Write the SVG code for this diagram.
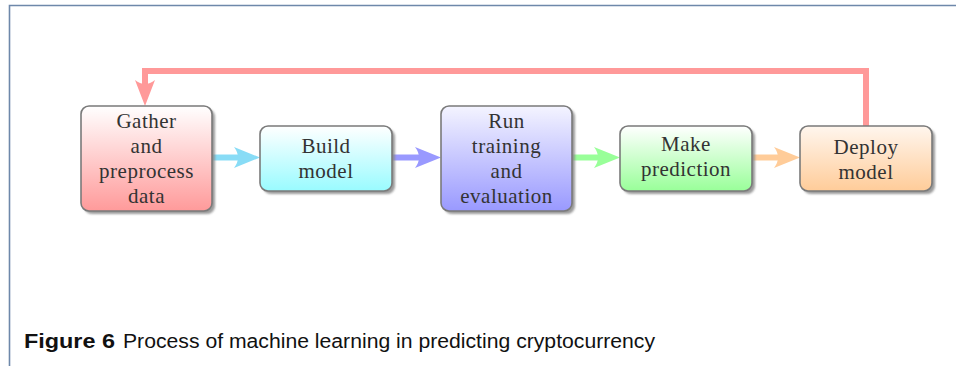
<svg xmlns="http://www.w3.org/2000/svg" width="956" height="366" viewBox="0 0 956 366">
<defs>
<linearGradient id="gRed" x1="0" y1="0" x2="0" y2="1"><stop offset="0" stop-color="#ffffff"/><stop offset="1" stop-color="#ff9a9a"/></linearGradient>
<linearGradient id="gCyan" x1="0" y1="0" x2="0" y2="1"><stop offset="0" stop-color="#ffffff"/><stop offset="1" stop-color="#99fbff"/></linearGradient>
<linearGradient id="gBlue" x1="0" y1="0" x2="0" y2="1"><stop offset="0" stop-color="#f4f4ff"/><stop offset="1" stop-color="#9999ff"/></linearGradient>
<linearGradient id="gGreen" x1="0" y1="0" x2="0" y2="1"><stop offset="0" stop-color="#ffffff"/><stop offset="1" stop-color="#99ff99"/></linearGradient>
<linearGradient id="gOrange" x1="0" y1="0" x2="0" y2="1"><stop offset="0" stop-color="#fff6ee"/><stop offset="1" stop-color="#ffcc99"/></linearGradient>
<filter id="sh" x="-10%" y="-10%" width="130%" height="130%"><feGaussianBlur stdDeviation="1.3"/></filter>
</defs>
<style>
.box{stroke:#7a7a7a;stroke-width:1.6}
.shadow{fill:#8a8a8a;opacity:0.85}
.t{font-family:"Liberation Serif","DejaVu Serif",serif;font-size:21px;letter-spacing:0.5px;fill:#333333;text-anchor:middle}
.cap{font-family:"Liberation Sans",Arial,sans-serif;font-size:20px;fill:#111111}
.line{fill:none;stroke-width:6}
</style>
<rect width="956" height="366" fill="#ffffff"/>
<path d="M9.5,366 V5.5 H956" fill="none" stroke="#6e88aa" stroke-width="1.6"/>
<g id="connectors">
<path class="line" d="M212,157.5 H238" stroke="#88dcf6"/>
<path d="M260,157.5 L234,147 Q242,157.5 234,168 Z" fill="#88dcf6"/>
<path class="line" d="M392,157.5 H419" stroke="#9999ff"/>
<path d="M441,157.5 L415,147 Q423,157.5 415,168 Z" fill="#9999ff"/>
<path class="line" d="M572,157.5 H598" stroke="#99ff99"/>
<path d="M620,157.5 L594,147 Q602,157.5 594,168 Z" fill="#99ff99"/>
<path class="line" d="M752,157.5 H778" stroke="#ffcc99"/>
<path d="M800,157.5 L774,147 Q782,157.5 774,168 Z" fill="#ffcc99"/>
<path class="line" d="M866,126 V71 H145 V85" stroke="#ff9999"/>
<path d="M145,106 L135,80 Q145,88 155,80 Z" fill="#ff9999"/>
</g>
<g id="gather">
<rect class="shadow" x="84" y="109" width="131" height="105" rx="8" filter="url(#sh)"/>
<rect class="box" x="81" y="106" width="131" height="105" rx="8" fill="url(#gRed)"/>
<text class="t" x="146.5" y="128">Gather</text>
<text class="t" x="146.5" y="153">and</text>
<text class="t" x="146.5" y="178">preprocess</text>
<text class="t" x="146.5" y="203">data</text>
</g>
<g id="build">
<rect class="shadow" x="263" y="129" width="132" height="65" rx="8" filter="url(#sh)"/>
<rect class="box" x="260" y="126" width="132" height="65" rx="8" fill="url(#gCyan)"/>
<text class="t" x="326" y="153">Build</text>
<text class="t" x="326" y="178">model</text>
</g>
<g id="run">
<rect class="shadow" x="444" y="109" width="131" height="105" rx="8" filter="url(#sh)"/>
<rect class="box" x="441" y="106" width="131" height="105" rx="8" fill="url(#gBlue)"/>
<text class="t" x="506.5" y="128">Run</text>
<text class="t" x="506.5" y="153">training</text>
<text class="t" x="506.5" y="178">and</text>
<text class="t" x="506.5" y="203">evaluation</text>
</g>
<g id="predict">
<rect class="shadow" x="623" y="129" width="132" height="65" rx="8" filter="url(#sh)"/>
<rect class="box" x="620" y="126" width="132" height="65" rx="8" fill="url(#gGreen)"/>
<text class="t" x="686" y="151">Make</text>
<text class="t" x="686" y="176">prediction</text>
</g>
<g id="deploy">
<rect class="shadow" x="803" y="129" width="132" height="65" rx="8" filter="url(#sh)"/>
<rect class="box" x="800" y="126" width="132" height="65" rx="8" fill="url(#gOrange)"/>
<text class="t" x="866" y="154">Deploy</text>
<text class="t" x="866" y="179">model</text>
</g>
<text class="cap" x="24" y="348" font-weight="bold" textLength="91" lengthAdjust="spacingAndGlyphs">Figure 6</text>
<text class="cap" x="123" y="348" textLength="532" lengthAdjust="spacingAndGlyphs">Process of machine learning in predicting cryptocurrency</text>
</svg>
